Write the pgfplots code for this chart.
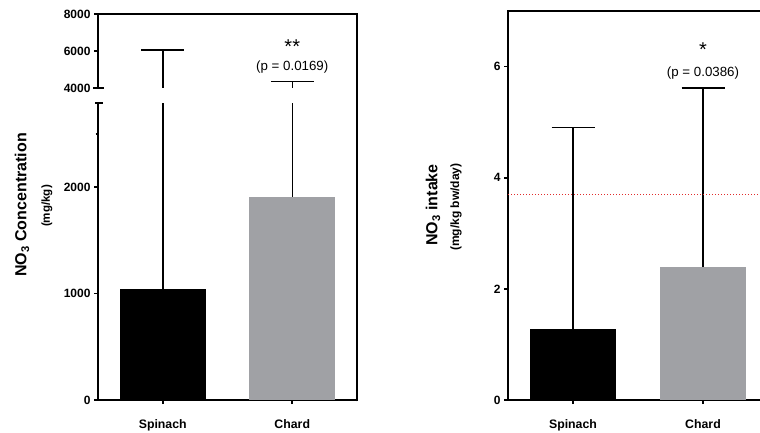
\documentclass[border=0pt]{standalone}
\usepackage{fontspec}
\setmainfont{Liberation Sans}
\usepackage{pgfplots}
\pgfplotsset{compat=1.18}
\definecolor{chardgray}{RGB}{160,161,165}
\definecolor{refred}{RGB}{225,45,45}
\pgfplotsset{
  mybase/.style={
    scale only axis, anchor=south west,
    xmin=-0.5, xmax=1.5,
    axis line style={line width=2.5pt},
    tick style={line width=1.8pt, black},
    major tick length=4pt,
    minor tick length=2.5pt,
    tick align=outside,
    yticklabel style={font=\fontsize{12}{12}\selectfont\bfseries},
    xticklabel style={font=\fontsize{12.3}{12}\selectfont\bfseries, yshift=-12pt},
    /pgf/number format/assume math mode=true,
    /pgf/number format/1000 sep={},
  },
  barstyle/.style={ybar, bar width=86pt, draw=none, bar shift=0pt,
    error bars/y dir=plus, error bars/y explicit,
    error bars/error bar style={line width=1.5pt, black},
    error bars/error mark options={rotate=90, line width=1.5pt, mark size=21.5pt, black}},
}
\begin{document}
\begin{tikzpicture}
% ---------- left panel, lower segment ----------
\begin{axis}[mybase, at={(98pt,32pt)}, width=259pt, height=297pt,
  ymin=0, ymax=2789,
  axis x line*=bottom, axis y line*=left,
  xtick={0,1}, xticklabels={Spinach,Chard},
  ytick={0,1000,2000}, minor ytick={2500}]
  \addplot[barstyle, fill=black] coordinates {(0,1040) +- (0,5010)};
  \addplot[barstyle, fill=chardgray] coordinates {(1,1910) +- (0,2440)};
\end{axis}
% ---------- left panel, upper segment ----------
\begin{axis}[mybase, at={(98pt,344pt)}, width=259pt, height=74pt,
  ymin=4000, ymax=8000,
  axis x line*=top, axis y line*=left,
  xtick=\empty, ytick={4000,6000,8000}]
  \addplot[barstyle, fill=black] coordinates {(0,1040) +- (0,5010)};
  \addplot[barstyle, fill=chardgray] coordinates {(1,1910) +- (0,2440)};
  \node[font=\fontsize{20}{20}\selectfont] at (axis cs:1,6254) {**};
  \node[font=\fontsize{13.3}{13}\selectfont] at (axis cs:1,5110) {(p = 0.0169)};
\end{axis}
\draw[line width=2.5pt] (357pt,30.75pt) -- (357pt,419.25pt);
\draw[line width=1.8pt] (93pt,344pt) -- (104pt,344pt);
\draw[line width=1.8pt] (95pt,329pt) -- (103pt,329pt);
\node[rotate=90, font=\fontsize{16}{16}\selectfont\bfseries] at (22pt,227pt) {NO\textsubscript{3} Concentration};
\node[rotate=90, font=\fontsize{11.6}{12}\selectfont\bfseries] at (47pt,226pt) {(mg/kg)};
% ---------- right panel ----------
\begin{axis}[mybase, at={(508pt,32pt)}, width=260pt, height=389pt,
  ymin=0, ymax=7, tick pos=left,
  xtick={0,1}, xticklabels={Spinach,Chard},
  ytick={0,2,4,6}]
  \addplot[barstyle, fill=black] coordinates {(0,1.28) +- (0,3.62)};
  \addplot[barstyle, fill=chardgray] coordinates {(1,2.39) +- (0,3.22)};
  \addplot[refred, line width=1.3pt, dash pattern=on 1.2pt off 1.8pt] coordinates {(-0.5,3.7) (1.5,3.7)};
  \node[font=\fontsize{20}{20}\selectfont] at (axis cs:1,6.31) {*};
  \node[font=\fontsize{13.3}{13}\selectfont] at (axis cs:1,5.88) {(p = 0.0386)};
\end{axis}
\node[rotate=90, font=\fontsize{16}{16}\selectfont\bfseries] at (433pt,227pt) {NO\textsubscript{3} intake};
\node[rotate=90, font=\fontsize{12}{12}\selectfont\bfseries] at (456pt,225pt) {(mg/kg bw/day)};
\pgfresetboundingbox
\path (0pt,0pt) rectangle (760pt,432pt);
\end{tikzpicture}
\end{document}
